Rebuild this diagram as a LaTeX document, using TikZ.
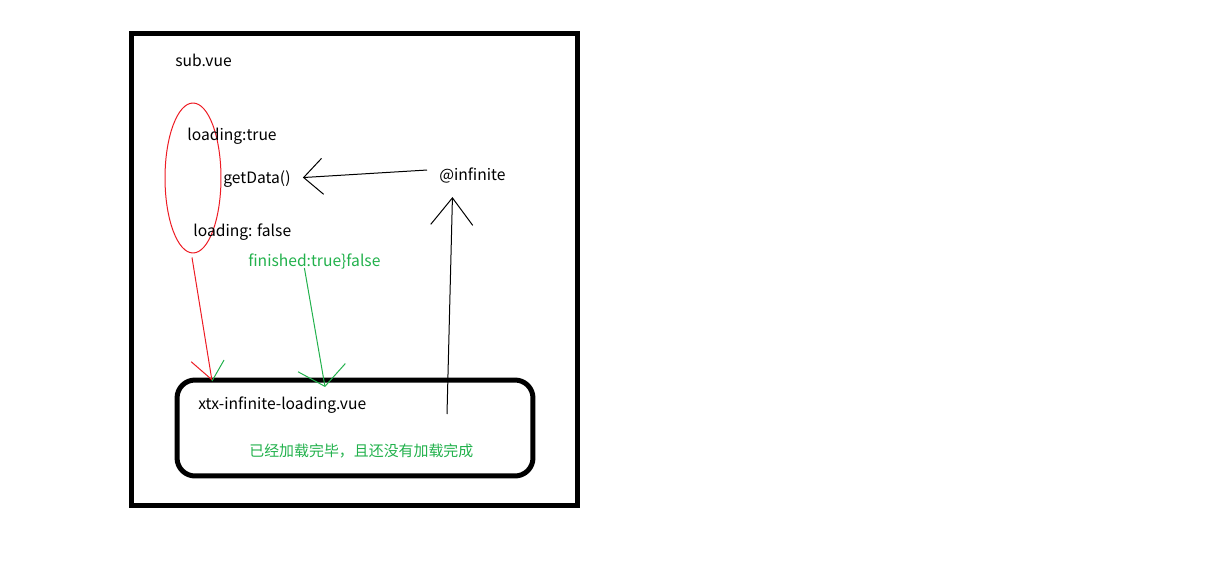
\documentclass[tikz,border=0pt]{standalone}
\usepackage{fontspec}
\setmainfont{Noto Sans CJK SC}
\usetikzlibrary{arrows.meta, shapes.geometric, calc}
\usepackage{xcolor}
\definecolor{paintred}{RGB}{237,28,36}
\definecolor{paintgreen}{RGB}{34,177,76}
\tikzset{>=latex}
\tikzset{
  txt/.style={anchor=base west, inner sep=0pt, font=\fontsize{8.9pt}{10pt}\selectfont},
  cjk txt/.style={txt, font=\fontsize{8.5pt}{10pt}\selectfont},
  thin line/.style={line width=0.02cm},
  box line/.style={line width=0.1cm},
}

\begin{document}
\begin{tikzpicture}[x=0.02cm,y=-0.02cm]
\useasboundingbox (0,0) rectangle (1222,567);
\draw[box line] (131,34) rectangle (577,505);
\node[txt] (subvue) at (175,67) {sub.vue};
\node[draw=paintred, thin line, ellipse, minimum width=1.12cm, minimum height=3cm, inner sep=0pt] (oval) at (193,178) {};
\node[txt] (loadtrue) at (187,141) {loading:true};
\node[txt] (getdata) at (223,184) {getData()};
\node[txt] (infinite) at (439,181) {@infinite};
\node[txt] (loadfalse) at (193,236) {loading: false};
\node[txt, text=paintgreen] (finished) at (248,267) {finished:true\}false};
\node[draw, box line, rounded corners=0.36cm, minimum width=7.12cm, minimum height=1.92cm, outer sep=0pt] (xtx) at (355,428) {};
\node[txt] (xtxname) at (198,409) {xtx-infinite-loading.vue};
\node[cjk txt, text=paintgreen] (status) at (249,456) {已经加载完毕，且还没有加载完成};
\coordinate (upfoot) at (447,414);
\coordinate (redtip) at ($(xtx.north west)+(35,1)$);
\draw[thin line, -{Straight Barb[length=0.38cm,width=0.72cm]}] ($(infinite.west)+(-12,-6)$) -- ($(getdata.east)+(12,-2)$);
\draw[thin line, -{Straight Barb[length=0.54cm,width=0.84cm]}] (upfoot) -- ($(infinite.south)+(-20,13)$);
\draw[thin line, paintred, -{Straight Barb[length=0.42cm,width=0.7cm,harpoon,swap]}] ($(oval.south)+(-1,4)$) -- (redtip);
\draw[thin line, paintgreen] (redtip) -- ++(12,-21);
\draw[thin line, paintgreen, -{Straight Barb[length=0.38cm,width=0.96cm]}] ($(finished.south)+(-10,-2)$) -- ($(xtx.north west)+(148,7)$);
\end{tikzpicture}
\end{document}
